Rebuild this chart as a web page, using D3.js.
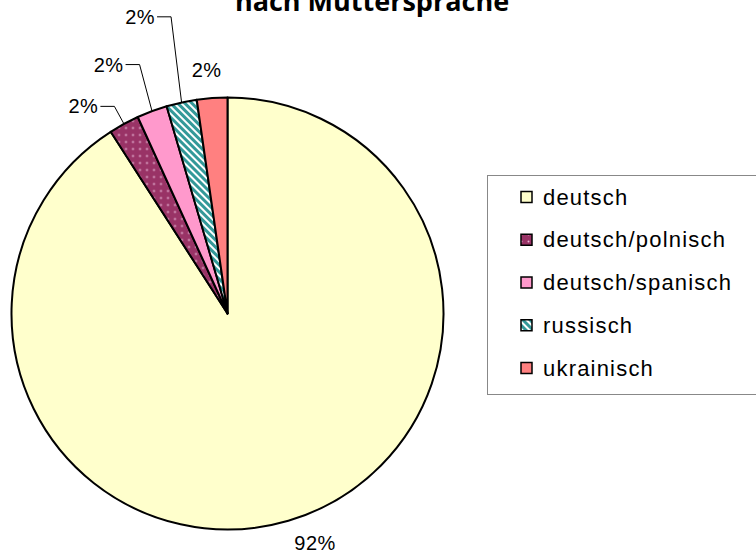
<!DOCTYPE html>
<html>
<head>
<meta charset="utf-8">
<script src="https://cdn.jsdelivr.net/npm/d3@7"></script>
<style>
  html, body { margin: 0; padding: 0; background: #fff; }
  svg { display: block; }
</style>
</head>
<body>
<svg id="chart" width="756" height="555"></svg>
<script>
// ---- data ----
const titleLines = ["nach Muttersprache"];
const categories = ["deutsch", "deutsch/polnisch", "deutsch/spanisch", "russisch", "ukrainisch"];
const values = [40, 1, 1, 1, 1];
const valueLabels = ["92%", "2%", "2%", "2%", "2%"];

// ---- style / layout ----
const fills = ["#FFFFCC", "url(#dots)", "#FF99CC", "url(#stripes)", "#FF8080"];
const cx = 227.5, cy = 313.5, R = 216;
// per-slice label layout: radial distance of label anchor, whether a leader is drawn
const labelLayout = [
  { r: 246, leader: false, dAng: -4.5 },
  { r: 236, leader: true, dAng: 0 },
  { r: 264, leader: true, dAng: 1 },
  { r: 302, leader: true, dAng: 1.5 },
  { r: 244, leader: false, dAng: -0.8 }
];

const svg = d3.select("#chart");
const defs = svg.append("defs");

const dots = defs.append("pattern").attr("id", "dots")
  .attr("width", 7).attr("height", 7).attr("patternUnits", "userSpaceOnUse");
dots.append("rect").attr("width", 7).attr("height", 7).attr("fill", "#993366");
dots.append("circle").attr("cx", 3.5).attr("cy", 3.5).attr("r", 1).attr("fill", "#E8B8D8");

const stripes = defs.append("pattern").attr("id", "stripes")
  .attr("width", 5).attr("height", 5).attr("patternUnits", "userSpaceOnUse")
  .attr("patternTransform", "rotate(-45)");
stripes.append("rect").attr("width", 5).attr("height", 5).attr("fill", "#339999");
stripes.append("rect").attr("width", 2).attr("height", 5).attr("fill", "#FFFFFF");

// title (its upper part is clipped off at the top edge in the reference)
svg.append("text")
  .attr("x", 372).attr("y", 11)
  .attr("text-anchor", "middle")
  .attr("font-family", "'Open Sans', sans-serif")
  .attr("font-weight", "bold")
  .attr("font-size", 27)
  .attr("fill", "#000")
  .text(titleLines[0]);

const pie = d3.pie().sort(null).value(d => d);
const arcs = pie(values);
const arc = d3.arc().innerRadius(0).outerRadius(R);

const g = svg.append("g").attr("transform", `translate(${cx},${cy})`);
g.selectAll("path.slice").data(arcs).join("path")
  .attr("class", "slice")
  .attr("d", arc)
  .attr("fill", (d, i) => fills[i])
  .attr("stroke", "#000")
  .attr("stroke-width", 2)
  .attr("stroke-linejoin", "round");

const polar = (a, r) => [Math.sin(a) * r, -Math.cos(a) * r];
const deg = Math.PI / 180;

arcs.forEach((d, i) => {
  const lay = labelLayout[i];
  const mid = (d.startAngle + d.endAngle) / 2 + lay.dAng * deg;
  const [ex, ey] = polar(mid, lay.r);
  if (lay.leader) {
    const [ox, oy] = polar((d.startAngle + d.endAngle) / 2, R);
    g.append("polyline")
      .attr("points", [[ex - 14, ey], [ex, ey], [ox, oy]].map(p => p.join(",")).join(" "))
      .attr("fill", "none").attr("stroke", "#000").attr("stroke-width", 1);
    g.append("text")
      .attr("x", ex - 16).attr("y", ey)
      .attr("text-anchor", "end").attr("dominant-baseline", "central")
      .attr("font-family", "'Liberation Sans', Arial, sans-serif")
      .attr("font-size", 20).attr("letter-spacing", 0.5)
      .text(valueLabels[i]);
  } else {
    g.append("text")
      .attr("x", ex).attr("y", ey)
      .attr("text-anchor", "middle").attr("dominant-baseline", "central")
      .attr("font-family", "'Liberation Sans', Arial, sans-serif")
      .attr("font-size", 20).attr("letter-spacing", 0.5)
      .text(valueLabels[i]);
  }
});

// legend
const lg = svg.append("g");
lg.append("rect")
  .attr("x", 487.5).attr("y", 175.5).attr("width", 300).attr("height", 219)
  .attr("fill", "#fff").attr("stroke", "#888").attr("stroke-width", 1);
const rowY = d3.scalePoint().domain(categories).range([197, 368]);
categories.forEach((c, i) => {
  const y = rowY(c);
  lg.append("rect")
    .attr("x", 521).attr("y", y - 5.5).attr("width", 11).attr("height", 11)
    .attr("fill", fills[i]).attr("stroke", "#000").attr("stroke-width", 1.5);
  lg.append("text")
    .attr("x", 543).attr("y", y)
    .attr("dominant-baseline", "central")
    .attr("font-family", "'Liberation Sans', Arial, sans-serif")
    .attr("font-size", 22).attr("letter-spacing", 1.2)
    .text(c);
});
</script>
</body>
</html>
